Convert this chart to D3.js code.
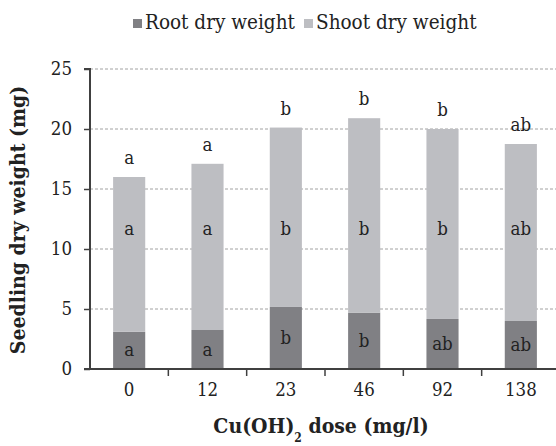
<!DOCTYPE html>
<html><head><meta charset="utf-8">
<script src="https://cdn.jsdelivr.net/npm/d3@7/dist/d3.min.js"></script>
<style>body{margin:0;background:#fff}</style>
</head><body>
<script>
const doses = ["0","12","23","46","92","138"];
const rootWeight = [3.1, 3.25, 5.17, 4.7, 4.17, 4.0];
const shootWeight = [12.9, 13.85, 14.95, 16.2, 15.83, 14.75];
const rootLetters = ["a","a","b","b","ab","ab"];
const shootLetters = ["a","a","b","b","b","ab"];
const totalLetters = ["a","a","b","b","b","ab"];
const yTicks = [0,5,10,15,20,25];
const seriesNames = ["Root dry weight","Shoot dry weight"];
const colors = ["#808084","#bdbec2"];

const W=556,H=446;
const svg=d3.select("body").append("svg").attr("width",W).attr("height",H);
const font="'DejaVu Serif Condensed','DejaVu Serif', serif";
const x=d3.scaleBand().domain(doses).range([90,560]).paddingInner(0.59).paddingOuter(0.295);
const xb=d3.scaleBand().domain(doses).range([90,560]);
const y=d3.scaleLinear().domain([0,25]).range([369,69]);

// gridlines
svg.append("g").selectAll("line").data(yTicks.filter(d=>d>0)).join("line")
  .attr("x1",90).attr("x2",W).attr("y1",d=>y(d)).attr("y2",d=>y(d))
  .attr("stroke","#8c8c8c").attr("stroke-width",0.8).attr("stroke-dasharray","3,2");

const data=doses.map((d,i)=>({dose:d,root:rootWeight[i],shoot:shootWeight[i]}));
const stack=d3.stack().keys(["root","shoot"])(data);
svg.append("g").selectAll("g").data(stack).join("g").attr("fill",(d,i)=>colors[i])
  .selectAll("rect").data(d=>d).join("rect")
  .attr("x",d=>x(d.data.dose)).attr("width",x.bandwidth())
  .attr("y",d=>y(d[1])).attr("height",d=>y(d[0])-y(d[1]));

// y axis
const ya=svg.append("g").attr("transform","translate(90,0)")
  .call(d3.axisLeft(y).tickValues(yTicks).tickSize(6).tickPadding(12));
ya.select(".domain").attr("stroke","#404040").attr("stroke-width",2).attr("d","M0,369V69H-6");
ya.selectAll(".tick line").attr("stroke","#404040").attr("stroke-width",1.5);
ya.selectAll("text").attr("font-family",font).attr("font-size",18.5).attr("fill","#222");

// x axis
const xa=svg.append("g").attr("transform","translate(0,369)")
  .call(d3.axisBottom(xb).tickSize(0).tickPadding(14));
xa.select(".domain").attr("stroke","#404040").attr("stroke-width",2).attr("d","M84,0H556");
xa.selectAll("text").attr("font-family",font).attr("font-size",18.5).attr("fill","#222");
svg.append("g").selectAll("line").data(doses.slice(1)).join("line")
  .attr("x1",d=>xb(d)).attr("x2",d=>xb(d)).attr("y1",369).attr("y2",376)
  .attr("stroke","#404040").attr("stroke-width",1.5);

// labels
const lab=svg.append("g").attr("font-family",font).attr("font-size",18.5).attr("fill","#222").attr("text-anchor","middle");
lab.selectAll(".rl").data(data).join("text")
  .attr("x",d=>x(d.dose)+x.bandwidth()/2).attr("y",d=>y(d.root/2)+6).text((d,i)=>rootLetters[i]);
lab.selectAll(".sl").data(data).join("text")
  .attr("x",d=>x(d.dose)+x.bandwidth()/2).attr("y",y(11.7)+6).text((d,i)=>shootLetters[i]);
lab.selectAll(".tl").data(data).join("text")
  .attr("x",d=>x(d.dose)+x.bandwidth()/2).attr("y",d=>y(d.root+d.shoot)-13).text((d,i)=>totalLetters[i]);

// legend
const lg=svg.append("g").attr("font-family",font).attr("font-size",20.5).attr("fill","#222");
const lx=[133,304];
seriesNames.forEach((n,i)=>{
  lg.append("rect").attr("x",lx[i]).attr("y",19).attr("width",9).attr("height",9).attr("fill",colors[i]);
  lg.append("text").attr("x",lx[i]+12).attr("y",29).text(n);
});

// titles
const xt=svg.append("text").attr("x",321).attr("y",433).attr("text-anchor","middle")
  .attr("font-family",font).attr("font-size",21).attr("font-weight","bold").attr("fill","#222");
xt.append("tspan").text("Cu(OH)");
xt.append("tspan").attr("font-size",12).attr("dy",9).text("2");
xt.append("tspan").attr("dy",-9).text(" dose (mg/l)");
svg.append("text").attr("transform","translate(25,220) rotate(-90)").attr("text-anchor","middle")
  .attr("font-family",font).attr("font-size",21).attr("font-weight","bold").attr("fill","#222")
  .text("Seedling dry weight (mg)");
</script>
</body></html>
